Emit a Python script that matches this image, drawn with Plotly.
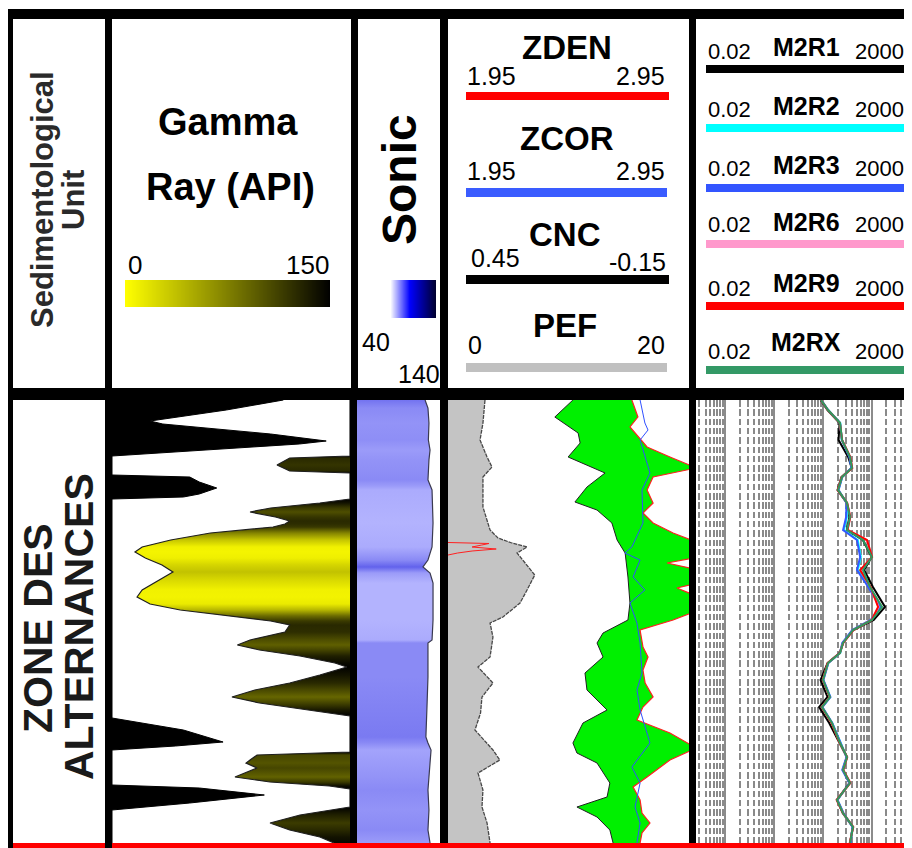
import math
import plotly.graph_objects as go

# page is rendered with an 8px body margin, so figure origin sits at page (8, 8)
OFF = 8
W, H = 904, 840
def px(x): return (x - OFF) / W
def py(y): return 1 - (y - OFF) / H

# ---------------- data ----------------
depth_top, depth_bot = 1500.0, 1610.75

# Gamma ray: black fill from left edge (API)
gr_black_depth = [1500.0, 1502.5, 1505.25, 1506.0, 1508.5, 1510.25, 1511.0, 1512.5, 1514.0,
                  1518.75, 1519.25, 1520.5, 1522.0, 1523.5, 1524.25, 1524.75,
                  1579.5, 1582.5, 1585.5, 1586.5, 1587.5,
                  1596.25, 1597.0, 1598.75, 1600.75, 1602.5, 1610.75]
gr_black = [108, 72, 24, 32, 100, 135, 118, 60, 0,
            0, 49, 55, 66, 55, 45, 0,
            0, 45, 70, 40, 0,
            0, 55, 96, 49, 0, 0]

# Gamma ray curve, coloured fill to the right edge (API)
gr_depth = [1500.0, 1514.0, 1514.5, 1516.25, 1517.75, 1518.25, 1524.75, 1525.75, 1527.0, 1528.0,
            1529.25, 1530.25, 1531.0, 1531.75, 1533.25, 1535.0, 1536.75, 1538.0, 1539.5, 1541.25,
            1543.0, 1545.0, 1547.5, 1549.25, 1551.0, 1552.5, 1554.0, 1555.25, 1556.25, 1558.0,
            1560.0, 1561.25, 1562.5, 1564.0, 1565.75, 1566.75, 1568.75, 1570.75, 1572.5, 1574.25,
            1575.75, 1577.5, 1579.0, 1588.0, 1588.75, 1590.0, 1590.75, 1592.0, 1593.25, 1594.25,
            1595.5, 1596.5, 1597.25, 1601.75, 1603.75, 1605.75, 1607.5, 1609.25, 1610.75]
gr_curve = [150, 150, 112, 104, 112, 150, 150, 131, 100, 87,
            103, 112, 109, 101.5, 62, 37, 19, 14.5, 21, 31.5,
            38.4, 30, 19, 15.8, 24, 43, 74, 100, 112, 109,
            87, 79, 93, 118.5, 140.5, 148, 131, 112, 90, 75.6,
            93, 125, 150, 150, 91.4, 87, 84.5, 91.4, 84, 77.5,
            99.6, 137, 150, 150, 118.5, 99.6, 112, 131, 140]

# Sonic (us/ft)
dt_depth = [1500.0, 1502.0, 1505.75, 1510.0, 1512.5, 1515.0, 1520.0, 1521.5, 1522.5, 1530.75,
            1536.75, 1540.0, 1541.75, 1543.25, 1545.75, 1555.0, 1560.0, 1560.75, 1569.25, 1576.75,
            1584.25, 1585.75, 1587.5, 1594.25, 1597.5, 1602.5, 1607.5, 1610.75]
dt = [122.0, 125.5, 126.7, 126.0, 128.0, 126.7, 125.5, 128.0, 130.4, 131.6,
      130.4, 125.5, 119.5, 128.0, 131.6, 131.6, 130.4, 125.5, 125.5, 124.3,
      123.0, 125.5, 129.2, 126.7, 125.5, 126.7, 125.5, 128.0]

# PEF (b/e)
pef_depth = [1500.0, 1505.75, 1510.0, 1514.25, 1516.75, 1519.25, 1526.75, 1532.5, 1534.5, 1535.75,
             1536.75, 1538.25, 1540.0, 1543.75, 1547.5, 1550.75, 1554.25, 1555.75, 1559.25, 1564.25,
             1566.75, 1570.75, 1574.25, 1578.25, 1582.5, 1587.5, 1590.0, 1593.25, 1597.5, 1601.75,
             1605.75, 1610.75]
pef = [3.07, 2.9, 2.66, 3.24, 3.65, 2.9, 2.9, 3.49, 4.15, 5.3,
       6.56, 5.73, 6.2, 7.2, 6.56, 5.98, 4.56, 3.49, 3.73, 3.49,
       2.49, 3.73, 2.82, 2.7, 2.24, 3.73, 4.3, 2.49, 2.9, 2.82,
       3.24, 3.49]

# CNC neutron porosity (v/v)
cnc_depth = [1500.0, 1504.25, 1508.25, 1510.75, 1514.25, 1518.25, 1521.75, 1525.5, 1527.5, 1530.75,
             1535.0, 1538.25, 1544.25, 1550.75, 1555.0, 1558.25, 1560.75, 1564.25, 1568.25, 1572.5,
             1577.5, 1580.75, 1585.75, 1588.25, 1590.75, 1595.75, 1599.25, 1601.75, 1604.25, 1607.5,
             1610.75]
cnc = [0.139, 0.184, 0.126, 0.121, 0.151, 0.059, 0.104, 0.134, 0.079, 0.042,
       0.029, 0.009, 0.002, -0.003, 0.002, 0.064, 0.079, 0.064, 0.109, 0.104,
       0.054, 0.114, 0.139, 0.129, 0.079, 0.047, 0.054, 0.129, 0.079, 0.047,
       0.039]

# ZDEN bulk density (g/cc)
zden_depth = [1500.0, 1504.25, 1506.75, 1508.75, 1511.75, 1514.25, 1517.0, 1519.25, 1522.5, 1525.75,
              1528.25, 1530.75, 1533.25, 1535.75, 1539.25, 1540.75, 1542.5, 1545.75, 1547.0, 1549.25,
              1552.5, 1555.0, 1557.5, 1561.75, 1564.25, 1567.5, 1570.75, 1574.25, 1576.75, 1580.0,
              1583.25, 1587.0, 1590.0, 1594.25, 1596.75, 1600.0, 1603.25, 1605.75, 1608.25, 1610.75]
zden = [2.713, 2.738, 2.705, 2.734, 2.776, 2.871, 2.98, 2.801, 2.776, 2.801,
        2.759, 2.801, 2.884, 2.99, 2.99, 2.859, 2.99, 2.99, 2.90, 2.99,
        2.99, 2.884, 2.747, 2.759, 2.78, 2.759, 2.768, 2.801, 2.759, 2.734,
        2.871, 2.98, 2.871, 2.776, 2.718, 2.747, 2.755, 2.788, 2.755, 2.747]

# ZCOR (plotted on the 1.95-2.95 scale)
zcor_depth = [1500.0, 1505.75, 1507.5, 1510.0, 1518.25, 1522.5, 1530.75, 1536.75, 1538.25, 1540.0,
              1544.25, 1547.5, 1550.75, 1555.75, 1560.75, 1568.25, 1572.5, 1577.5, 1585.75, 1591.75,
              1595.75, 1601.75, 1605.75, 1610.75]
zcor = [2.747, 2.767, 2.78, 2.747, 2.788, 2.755, 2.759, 2.713, 2.684, 2.747,
        2.718, 2.767, 2.705, 2.734, 2.747, 2.755, 2.734, 2.747, 2.788, 2.713,
        2.747, 2.726, 2.747, 2.734]

# ZDEN wrapped (backup) trace
zden_bkp_depth = [1535.625, 1535.875, 1536.25, 1536.75, 1537.25, 1537.75, 1538.25, 1538.75]
zden_bkp = [1.95, 2.12, 2.09, 2.05, 2.15, 2.05, 1.99, 1.95]

# Resistivities (ohm.m)
res_depth = [1500.0, 1502.5, 1505.75, 1510.0, 1514.25, 1517.0, 1519.25, 1522.5, 1525.75, 1529.25,
             1532.5, 1535.0, 1539.25, 1542.5, 1546.75, 1551.75, 1555.0, 1557.5, 1560.75, 1563.25,
             1565.75, 1570.0, 1574.25, 1576.75, 1580.75, 1585.75, 1589.25, 1592.5, 1595.75, 1600.0,
             1603.25, 1606.75, 1610.75]
m2r1 = [9.0, 12.5, 22.0, 21.0, 33.0, 39.0, 24.0, 20.0, 31.0, 35.0,
        31.0, 66.0, 100, 70.0, 106, 187, 110, 42.0, 26.0, 22.0,
        12.5, 9.0, 12.5, 8.4, 13.5, 22.0, 31.0, 26.0, 35.0, 19.5,
        25.5, 41.0, 36.0]
m2r2 = [9.3, 12.9, 22.8, 24.5, 35.5, 39.0, 25.0, 20.8, 31.0, 31.0,
        27.0, 52.0, 60.0, 52.0, 87.0, 152, 97.0, 41.0, 25.5, 22.8,
        12.9, 10.2, 14.2, 9.7, 15.5, 22.8, 31.0, 25.5, 35.5, 19.8,
        26.0, 41.0, 36.5]
m2r3 = [9.3, 12.8, 22.5, 24.5, 35.0, 38.5, 25.0, 21.0, 30.5, 30.0,
        26.0, 50.0, 58.0, 50.0, 85.0, 150, 95.0, 40.0, 25.0, 22.5,
        13.0, 10.3, 14.3, 9.8, 15.6, 23.0, 30.5, 25.0, 35.0, 20.0,
        26.5, 40.5, 37.0]
m2r6 = [9.2, 12.7, 22.3, 24.8, 36.5, 40.0, 24.5, 20.3, 31.5, 36.5,
        32.0, 78.0, 101, 60.0, 94.0, 138, 100, 42.0, 26.0, 22.3,
        12.7, 10.0, 13.8, 9.5, 15.2, 22.3, 31.5, 26.0, 36.5, 19.3,
        25.8, 42.0, 35.5]
m2r9 = [9.2, 12.7, 22.4, 24.8, 36.5, 40.0, 24.5, 20.2, 31.5, 36.5,
        32.0, 80.0, 102, 58.0, 95.0, 135, 100, 42.5, 26.2, 22.3,
        12.6, 10.0, 13.8, 9.5, 15.1, 22.2, 31.6, 26.2, 36.6, 19.2,
        25.7, 42.0, 35.5]
m2rx = [9.2, 12.8, 22.5, 24.7, 36.0, 39.5, 24.7, 20.5, 31.3, 36.0,
        31.3, 66.4, 101, 66.4, 92.3, 163, 101, 41.5, 25.9, 22.5,
        12.8, 10.1, 14.0, 9.6, 15.4, 22.5, 31.3, 25.9, 36.0, 19.5,
        25.9, 41.5, 36.0]

# Scales shown in the header
gr_scale = [0, 150]
dt_scale = [40, 140]
den_scale = [1.95, 2.95]
cnc_scale = [0.45, -0.15]
pef_scale = [0, 20]
res_scale = [0.02, 2000]
res_major = [0.1, 1, 10, 100]
res_minor = [k * 10 ** e for e in range(-2, 3) for k in range(2, 10)]
res_view = [-1.593, 2.824]   # visible part of the log track (log10)

# ---------------- helpers ----------------
# brightness ramp of the gamma-ray shading (fraction of scale -> yellow level)
gr_ramp = [(0.0, 255), (0.15, 238), (0.4, 135), (0.6, 72), (0.8, 30), (1.0, 0)]

def gr_color(v):
    t = min(max((v - gr_scale[0]) / (gr_scale[1] - gr_scale[0]), 0), 1)
    for (t0, c0), (t1, c1) in zip(gr_ramp[:-1], gr_ramp[1:]):
        if t <= t1:
            c = round(c0 + (c1 - c0) * (t - t0) / (t1 - t0))
            break
    return f"rgb({c},{c},0)"

def dt_color(v):
    t = min(max((v - 119.0) / (132.0 - 119.0), 0), 1)
    r = round(95 + t * (182 - 95))
    b = round(235 + t * (255 - 235))
    return f"rgb({r},{r},{b})"

def depth_scale(depths, values, fn):
    d0, d1 = depths[0], depths[-1]
    return [[(d - d0) / (d1 - d0), fn(v)] for d, v in zip(depths, values)]

cnc_on_den = [den_scale[0] + (cnc_scale[0] - v) / (cnc_scale[0] - cnc_scale[1]) * (den_scale[1] - den_scale[0])
              for v in cnc]

fig = go.Figure()

# Gamma ray coloured fill (right side)
fig.add_trace(go.Scatter(
    x=gr_curve + [gr_scale[1], gr_scale[1]],
    y=gr_depth + [gr_depth[-1], gr_depth[0]],
    mode="lines", fill="toself", line=dict(width=0),
    fillgradient=dict(type="vertical", colorscale=depth_scale(gr_depth, gr_curve, gr_color),
                      start=gr_depth[0], stop=gr_depth[-1]),
    xaxis="x", yaxis="y", hoverinfo="skip"))
fig.add_trace(go.Scatter(x=gr_curve, y=gr_depth, mode="lines",
                         line=dict(color="#1e1e1e", width=1.2), xaxis="x", yaxis="y"))
# Gamma ray black fill (left side)
fig.add_trace(go.Scatter(x=gr_black, y=gr_black_depth, mode="lines", fill="tozerox",
                         fillcolor="black", line=dict(color="black", width=1),
                         xaxis="x", yaxis="y"))

# Sonic
fig.add_trace(go.Scatter(
    x=dt, y=dt_depth, mode="lines", fill="tozerox",
    fillgradient=dict(type="vertical", colorscale=depth_scale(dt_depth, dt, dt_color),
                      start=dt_depth[0], stop=dt_depth[-1]),
    line=dict(color="#3a3a50", width=1.2), xaxis="x2", yaxis="y"))

# PEF
fig.add_trace(go.Scatter(x=pef, y=pef_depth, mode="lines", fill="tozerox",
                         fillcolor="#c4c4c4", line=dict(color="#484848", width=1.3, dash="4px,1px"),
                         xaxis="x3", yaxis="y"))
# Neutron / density with green fill
fig.add_trace(go.Scatter(x=cnc_on_den, y=cnc_depth, mode="lines",
                         line=dict(color="#202020", width=1), xaxis="x5", yaxis="y"))
fig.add_trace(go.Scatter(x=zden, y=zden_depth, mode="lines", fill="tonextx",
                         fillcolor="#00f000", line=dict(color="#ff2020", width=1.2),
                         xaxis="x5", yaxis="y"))
fig.add_trace(go.Scatter(x=zcor, y=zcor_depth, mode="lines",
                         line=dict(color="#3050ff", width=1), xaxis="x5", yaxis="y"))
fig.add_trace(go.Scatter(x=zden_bkp, y=zden_bkp_depth, mode="lines",
                         line=dict(color="#ff2020", width=1), xaxis="x5", yaxis="y"))

# Resistivity
res_curves = [(m2r1, "#000000"), (m2r2, "#00ffff"), (m2r3, "#3355ff"),
              (m2r6, "#ff99cc"), (m2r9, "#ff0000"), (m2rx, "#2e9960")]
for vals, col in res_curves:
    fig.add_trace(go.Scatter(x=vals, y=res_depth, mode="lines",
                             line=dict(color=col, width=2), xaxis="x4", yaxis="y"))

# Header colour scales
fig.add_trace(go.Heatmap(z=[gr_scale, gr_scale], x=gr_scale, y=[0, 1], zsmooth="best",
                         colorscale=[[0, "#ffff00"], [1, "#000000"]], showscale=False,
                         xaxis="x6", yaxis="y6", hoverinfo="skip"))
fig.add_trace(go.Heatmap(z=[dt_scale, dt_scale], x=dt_scale, y=[0, 1], zsmooth="best",
                         colorscale=[[0, "#ffffff"], [0.42, "#0000ff"], [1, "#00002a"]],
                         showscale=False, xaxis="x7", yaxis="y7", hoverinfo="skip"))

# ---------------- layout ----------------
hidden = dict(visible=False, showgrid=False, zeroline=False, fixedrange=True)
ydom = [py(843), py(400)]
layout = dict(
    width=W, height=H, margin=dict(l=0, r=0, t=0, b=0),
    paper_bgcolor="white", plot_bgcolor="white", showlegend=False,
    yaxis=dict(domain=ydom, range=[depth_bot, depth_top], anchor="x", **hidden),
    xaxis=dict(domain=[px(112), px(350)], range=gr_scale, anchor="y", **hidden),
    xaxis2=dict(domain=[px(357), px(440)], range=dt_scale, anchor="y", **hidden),
    xaxis3=dict(domain=[px(448), px(689)], range=pef_scale, anchor="y", **hidden),
    xaxis5=dict(overlaying="x3", range=den_scale, anchor="y", **hidden),
    xaxis4=dict(domain=[px(696), 1.0], type="log", range=res_view, anchor="y",
                showgrid=True, gridcolor="#8c8c8c", gridwidth=2.2,
                tickmode="array", tickvals=res_major,
                showticklabels=False, ticks="", showline=False, zeroline=False, fixedrange=True,
                minor=dict(tickmode="array", tickvals=res_minor, showgrid=True,
                           gridcolor="#8a8a8a", gridwidth=1.5, griddash="6.5px,2.8px", ticks="")),
    xaxis6=dict(domain=[px(125), px(330)], range=gr_scale, anchor="y6", **hidden),
    yaxis6=dict(domain=[py(307), py(280)], range=[0, 1], anchor="x6", **hidden),
    xaxis7=dict(domain=[px(390), px(436)], range=dt_scale, anchor="y7", **hidden),
    yaxis7=dict(domain=[py(318), py(280)], range=[0, 1], anchor="x7", **hidden),
)
fig.update_layout(**layout)

# ---------------- frame shapes ----------------
shapes = []
def rect(x0, y0, x1, y1, color, layer="below"):
    shapes.append(dict(type="rect", xref="paper", yref="paper", x0=px(x0), x1=px(x1),
                       y0=py(y1), y1=py(y0), fillcolor=color, line=dict(width=0), layer=layer))

rect(8, 9, 912, 848, "black")
for (a, b) in [(13, 105), (112, 351), (358, 440), (448, 689), (696, 912)]:
    rect(a, 19, b, 388, "white")
for (a, b) in [(13, 105), (112, 350), (357, 440), (448, 689), (696, 912)]:
    rect(a, 400, b, 843, "white")
rect(13, 843, 912, 848, "#ff0000")
rect(105, 843, 112, 848, "black")

# header scale lines
rect(466, 92, 669, 100, "#ff0000", "above")
rect(466, 188, 667, 197, "#3a5cff", "above")
rect(466, 275, 669, 284, "#000000", "above")
rect(466, 363, 667, 372, "#c0c0c0", "above")
res_hdr = [("M2R1", "#000000", 51, 47, 69), ("M2R2", "#00ffff", 109, 106, 128),
           ("M2R3", "#3355ff", 168, 165, 188), ("M2R6", "#ff99cc", 225, 222, 244),
           ("M2R9", "#ff0000", 289, 283, 306), ("M2RX", "#339966", 351, 342, 370)]
for name, col, yv, yn, yl in res_hdr:
    rect(706, yl - 4, 908, yl + 4, col, "above")
fig.update_layout(shapes=shapes)

# ---------------- texts ----------------
FONT = "Liberation Sans, Arial, sans-serif"
anns = []
def ann(text, x, y, size, bold=False, angle=0, color="black"):
    t = f"<b>{text}</b>" if bold else text
    anns.append(dict(text=t, x=px(x), y=py(y), xref="paper", yref="paper",
                     xanchor="center", yanchor="middle", showarrow=False, textangle=angle,
                     font=dict(family=FONT, size=size, color=color)))

ann("Sedimentological", 43, 200, 31, True, -90, "#2a2a2a")
ann("Unit", 74, 200, 31, True, -90, "#2a2a2a")
ann("ZONE DES", 38, 628, 41, True, -90, "#1a1a1a")
ann("ALTERNANCES", 79, 627, 41, True, -90, "#1a1a1a")

ann("Gamma", 228, 122, 38, True)
ann("Ray (API)", 230, 187, 38, True)
ann(str(gr_scale[0]), 135, 265, 26)
ann(str(gr_scale[1]), 307, 265, 26)

ann("Sonic", 400, 180, 48, True, -90)
ann(str(dt_scale[0]), 376, 342, 25)
ann(str(dt_scale[1]), 419, 374, 25)

ann("ZDEN", 567, 47, 33, True)
ann(f"{den_scale[0]:.2f}", 491, 76, 25)
ann(f"{den_scale[1]:.2f}", 640, 76, 25)
ann("ZCOR", 567, 138, 33, True)
ann(f"{den_scale[0]:.2f}", 491, 171, 25)
ann(f"{den_scale[1]:.2f}", 640, 171, 25)
ann("CNC", 565, 235, 33, True)
ann(f"{cnc_scale[0]:.2f}", 495, 258, 25)
ann(f"{cnc_scale[1]:.2f}", 637, 262, 25)
ann("PEF", 565, 325, 33, True)
ann(str(pef_scale[0]), 475, 345, 25)
ann(str(pef_scale[1]), 651, 345, 25)

for name, col, yv, yn, yl in res_hdr:
    ann(f"{res_scale[0]:.2f}", 729, yv, 22)
    ann(name, 806, yn, 25, True)
    ann(str(res_scale[1]), 879, yv, 22)

fig.update_layout(annotations=anns)
fig.write_html("out.html")
